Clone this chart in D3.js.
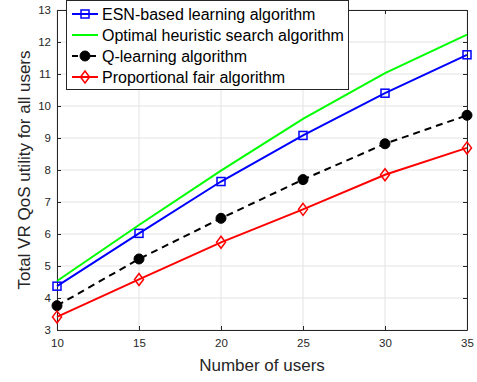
<!DOCTYPE html>
<html>
<head>
<meta charset="utf-8">
<script src="https://cdn.jsdelivr.net/npm/d3@7"></script>
<style>
  body { margin: 0; background: #fff; }
  text { font-family: "Liberation Sans", Arial, sans-serif; }
</style>
</head>
<body>
<div id="chart"></div>
<script>
// Chart data
const users = [10, 15, 20, 25, 30, 35];
const esn = [4.37, 6.02, 7.64, 9.08, 10.40, 11.60];
const optimal = [4.53, 6.28, 7.98, 9.60, 11.03, 12.23];
const qlearning = [3.76, 5.22, 6.49, 7.70, 8.82, 9.71];
const propfair = [3.41, 4.58, 5.74, 6.77, 7.85, 8.69];
const xTicks = [10, 15, 20, 25, 30, 35];
const yTicks = [3, 4, 5, 6, 7, 8, 9, 10, 11, 12, 13];

const series = [
  { name: "ESN-based learning algorithm", values: esn, color: "#0000ff", marker: "square", dash: null },
  { name: "Optimal heuristic search algorithm", values: optimal, color: "#00ff00", marker: null, dash: null },
  { name: "Q-learning algorithm", values: qlearning, color: "#000000", marker: "circle", dash: "7,5" },
  { name: "Proportional fair algorithm", values: propfair, color: "#ff0000", marker: "diamond", dash: null }
];

const width = 477, height = 382;
const margin = { left: 57, right: 10, top: 10, bottom: 52 };

const svg = d3.select("#chart").append("svg")
    .attr("width", width)
    .attr("height", height);

const x = d3.scaleLinear().domain([10, 35]).range([margin.left, width - margin.right]);
const y = d3.scaleLinear().domain([3, 13]).range([height - margin.bottom, margin.top]);

// grid
svg.append("g").selectAll("line.gx")
    .data(xTicks).enter().append("line")
    .attr("x1", d => x(d)).attr("x2", d => x(d))
    .attr("y1", y(3)).attr("y2", y(13))
    .style("stroke", "#e3e3e3").style("stroke-width", 1);
svg.append("g").selectAll("line.gy")
    .data(yTicks).enter().append("line")
    .attr("x1", x(10)).attr("x2", x(35))
    .attr("y1", d => y(d)).attr("y2", d => y(d))
    .style("stroke", "#e3e3e3").style("stroke-width", 1);

// axes
const axisColor = "#262626";
const xAxis = svg.append("g")
    .attr("transform", `translate(0,${y(3)})`)
    .call(d3.axisBottom(x).tickValues(xTicks).tickSizeInner(-4).tickSizeOuter(0).tickPadding(9));
const yAxis = svg.append("g")
    .attr("transform", `translate(${x(10)},0)`)
    .call(d3.axisLeft(y).tickValues(yTicks).tickSizeInner(-4).tickSizeOuter(0).tickPadding(6));
const xAxisTop = svg.append("g")
    .attr("transform", `translate(0,${y(13)})`)
    .call(d3.axisTop(x).tickValues(xTicks).tickSizeInner(-4).tickSizeOuter(0).tickFormat(""));
const yAxisRight = svg.append("g")
    .attr("transform", `translate(${x(35)},0)`)
    .call(d3.axisRight(y).tickValues(yTicks).tickSizeInner(-4).tickSizeOuter(0).tickFormat(""));

[xAxis, yAxis, xAxisTop, yAxisRight].forEach(a => {
  a.selectAll("path").style("stroke", axisColor);
  a.selectAll("line").style("stroke", axisColor);
  a.selectAll("text").style("fill", axisColor).style("font-size", "11.5px")
      .style("font-family", "'Liberation Sans', Arial, sans-serif");
});

// lines
const line = d3.line()
    .x((d, i) => x(users[i]))
    .y(d => y(d));

const drawMarker = (g, type, cx, cy, color) => {
  if (type === "square") {
    g.append("rect").attr("x", cx - 4).attr("y", cy - 4).attr("width", 8).attr("height", 8)
        .style("fill", "none").style("stroke", color).style("stroke-width", 1.5);
  } else if (type === "circle") {
    g.append("circle").attr("cx", cx).attr("cy", cy).attr("r", 5)
        .style("fill", color).style("stroke", color);
  } else if (type === "diamond") {
    g.append("path").attr("d", `M${cx},${cy - 6}L${cx + 4.5},${cy}L${cx},${cy + 6}L${cx - 4.5},${cy}Z`)
        .style("fill", "none").style("stroke", color).style("stroke-width", 1.5);
  }
};

series.forEach(s => {
  svg.append("path")
      .datum(s.values)
      .attr("d", line)
      .style("fill", "none")
      .style("stroke", s.color)
      .style("stroke-width", 2)
      .style("stroke-dasharray", s.dash);
  if (s.marker) {
    const g = svg.append("g");
    s.values.forEach((v, i) => drawMarker(g, s.marker, x(users[i]), y(v), s.color));
  }
});

// axis labels
svg.append("text")
    .attr("x", (x(10) + x(35)) / 2)
    .attr("y", 371)
    .attr("text-anchor", "middle")
    .style("font-size", "17px")
    .style("fill", axisColor)
    .text("Number of users");

svg.append("text")
    .attr("transform", `translate(30,${(y(3) + y(13)) / 2}) rotate(-90)`)
    .attr("text-anchor", "middle")
    .style("font-size", "17px")
    .style("fill", axisColor)
    .text("Total VR QoS utility for all users");

// legend
const legend = svg.append("g");
legend.append("rect")
    .attr("x", 66.5).attr("y", 0.5).attr("width", 282).attr("height", 89)
    .style("fill", "#fff").style("stroke", "#262626").style("stroke-width", 1);

series.forEach((s, i) => {
  const ly = 14 + i * 21;
  legend.append("line")
      .attr("x1", 72).attr("x2", 98).attr("y1", ly).attr("y2", ly)
      .style("stroke", s.color).style("stroke-width", 2)
      .style("stroke-dasharray", s.dash ? "6,3" : null);
  if (s.marker) drawMarker(legend, s.marker, 85, ly, s.color);
  legend.append("text")
      .attr("x", 102).attr("y", ly + 6)
      .style("font-size", "16px")
      .style("fill", "#000")
      .text(s.name);
});
</script>
</body>
</html>
